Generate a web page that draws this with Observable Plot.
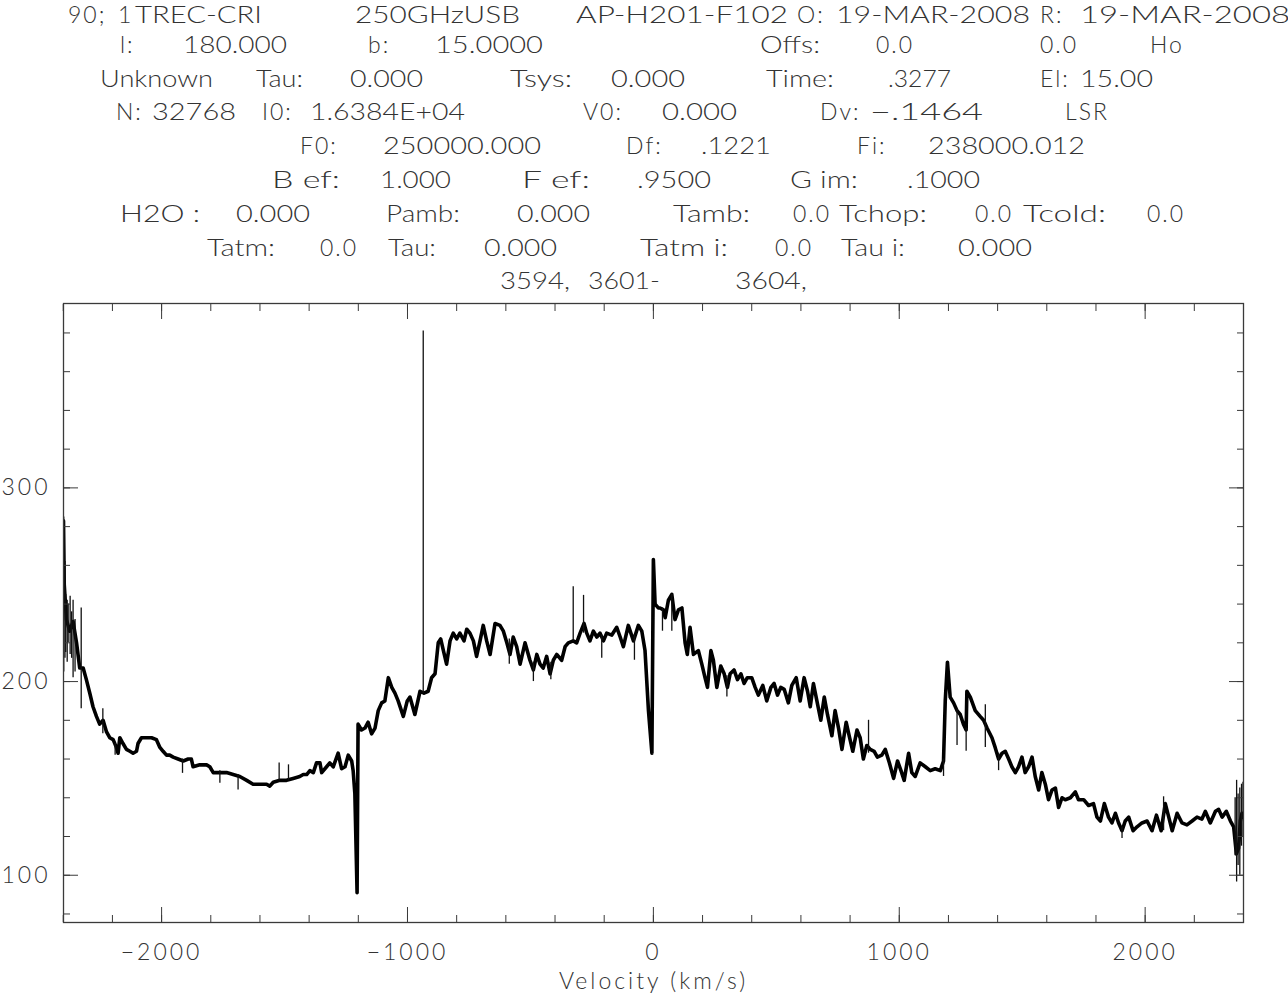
<!DOCTYPE html>
<html><head><meta charset="utf-8">
<script src="https://cdn.jsdelivr.net/npm/d3@7"></script>
<script src="https://cdn.jsdelivr.net/npm/@observablehq/plot@0.6"></script>
<style>
body{margin:0;background:#fff;}
#wrap{width:1288px;}
#wrap svg{display:block;}
</style></head><body><div id="wrap"></div>
<script>
// ---- spectrum data (velocity km/s, antenna temperature) ----
const velocity = [-2399,-2396,-2387,-2374,-2360,-2346,-2333,-2319,-2306,-2292,-2279,-2265,-2252,-2238,-2224,-2211,-2197,-2184,-2177,-2170,-2157,-2143,-2129,-2116,-2102,-2096,-2082,-2061,-2041,-2021,-2007,-1994,-1980,-1967,-1953,-1933,-1912,-1892,-1879,-1872,-1845,-1817,-1804,-1790,-1763,-1736,-1709,-1682,-1654,-1628,-1600,-1573,-1560,-1546,-1519,-1492,-1465,-1438,-1424,-1410,-1397,-1383,-1370,-1356,-1349,-1329,-1316,-1302,-1282,-1268,-1254,-1241,-1227,-1221,-1214,-1205,-1201,-1187,-1173,-1160,-1146,-1132,-1119,-1105,-1092,-1078,-1064,-1051,-1038,-1017,-1001,-990,-970,-949,-933,-916,-902,-888,-875,-865,-854,-841,-827,-814,-800,-787,-770,-759,-746,-732,-719,-705,-692,-678,-664,-644,-624,-610,-596,-583,-570,-556,-542,-522,-502,-488,-474,-461,-448,-434,-420,-407,-393,-373,-359,-346,-326,-312,-298,-282,-271,-258,-244,-230,-217,-203,-190,-169,-149,-135,-122,-102,-81,-61,-47,-34,-20,-6,0,7,20,27,41,48,61,75,88,102,116,129,138,149,163,183,197,210,220,234,244,258,274,288,301,312,328,342,356,369,382,400,414,427,445,461,478,491,505,518,532,549,563,581,597,613,627,638,651,665,681,695,708,726,739,753,767,784,798,811,828,841,854,868,882,898,911,929,943,960,977,993,1007,1020,1038,1051,1065,1085,1106,1126,1146,1167,1180,1187,1196,1207,1221,1235,1248,1261,1272,1275,1289,1309,1329,1343,1357,1377,1390,1404,1418,1431,1445,1458,1472,1485,1499,1512,1526,1540,1553,1567,1580,1594,1607,1621,1635,1648,1662,1675,1696,1716,1729,1750,1770,1790,1804,1818,1834,1851,1865,1879,1892,1906,1919,1933,1951,1967,1987,2008,2028,2046,2065,2082,2096,2110,2130,2150,2170,2191,2211,2231,2245,2265,2286,2299,2313,2330,2347,2360,2371,2380,2387,2394,2400];
const tmb = [283,250,232,226,231,220,207,207,201,194,187,182,178,180,174,171,170,166,163,171,168,165,164,163,164,168,171,171,171,170,166,164,162,162,161,160,159,160,160,156,157,157,156,153,153,153,152,151,149,147,147,147,146,148,149,149,150,151,152,152,154,153,158,158,153,156,158,156,163,155,156,162,159,154,142,91,178,175,176,179,173,176,185,189,190,202,197,194,190,182,190,192,183,195,194,195,202,204,220,222,216,209,221,225,222,225,221,227,225,221,213,221,229,221,214,230,229,226,220,214,223,218,209,220,211,206,214,209,207,213,204,211,214,211,218,220,221,220,225,230,225,221,226,223,225,221,225,224,228,223,218,229,221,229,226,216,185,163,263,240,238,238,237,233,242,245,232,237,238,220,214,228,214,216,209,202,197,216,211,197,208,204,197,204,206,201,204,199,202,202,197,193,198,190,197,199,193,197,196,189,198,202,190,202,195,187,199,190,180,192,183,172,185,176,165,179,171,164,175,171,160,167,165,164,161,162,165,158,150,159,154,149,163,153,151,158,156,154,155,154,159,190,210,192,189,185,183,178,175,195,192,185,182,180,176,171,166,160,163,164,160,156,153,156,161,153,156,161,151,144,153,147,139,144,145,135,140,139,140,143,139,139,136,137,130,128,137,130,127,132,127,123,128,130,123,125,127,128,123,131,123,137,130,123,132,127,126,128,130,129,133,127,133,134,130,133,128,125,111,114,128,132,130];
// narrow noise spikes: velocity, lower and upper temperature
const spikeV  = [-2398,-2393,-2390,-2384,-2380,-2372,-2366,-2360,-2352,-2327,-2239,-2189,-1915,-1763,-1689,-1522,-1484,-936,-586,-488,-417,-326,-284,-210,-77,37,75,299,875,1180,1235,1272,1350,1404,1906,2075,2366,2372,2378,2385,2392,2398];
const spikeLo = [205,212,215,210,220,214,212,202,205,186,173,162,152.6,147.5,144,149,149,194,209,200,201,221,225,212,211,226,226,192,163,151,167,164,166,154,119,123,110,96.5,105,100,115,120];
const spikeHi = [285,262,245,242,240,244,236,242,232,238,186,168,160,154,152,158,157,381,222,210,210,249,244.5,224,224,238,245,203,180,160,186,176,188,163,125,140.5,140,149,142,145,147,148];

// ---- axis ticks ----
const xTickLabels = [-2000,-1000,0,1000,2000];
const xMinorTicks = [-2400,-2200,-2000,-1800,-1600,-1400,-1200,-1000,-800,-600,-400,-200,0,200,400,600,800,1000,1200,1400,1600,1800,2000,2200,2400];
const yTickLabels = [100,200,300];
const yMinorTicks = [80,100,120,140,160,180,200,220,240,260,280,300,320,340,360,380];
const xLabel = "Velocity (km/s)";

// ---- header text (CLASS spectrum header) ----
const headerRows = [
  ["90;","1","TREC-CRI","250GHzUSB","AP-H201-F102","O:","19-MAR-2008","R:","19-MAR-2008"],
  ["l:","180.000","b:","15.0000","Offs:","0.0","0.0","Ho"],
  ["Unknown","Tau:","0.000","Tsys:","0.000","Time:",".3277","El:","15.00"],
  ["N:","32768","I0:","1.6384E+04","V0:","0.000","Dv:","\u2212.1464","LSR"],
  ["F0:","250000.000","Df:",".1221","Fi:","238000.012"],
  ["B ef:","1.000","F ef:",".9500","G im:",".1000"],
  ["H2O :","0.000","Pamb:","0.000","Tamb:","0.0","Tchop:","0.0","Tcold:","0.0"],
  ["Tatm:","0.0","Tau:","0.000","Tatm i:","0.0","Tau i:","0.000"],
  ["3594,","3601-","3604,"]
];
// layout: [start x, end x] of each header token
const headerLayout = [
  [[68,100],[118,130],[135,262],[355,520],[576,788],[797,822],[836,1030],[1040,1068],[1080,1290]],
  [[120,135],[183,287],[368,385],[435,543],[760,820],[876,915],[1040,1080],[1150,1168]],
  [[100,213],[256,303],[350,423],[510,572],[611,685],[766,834],[888,951],[1040,1063],[1080,1153]],
  [[116,143],[152,236],[262,300],[310,465],[583,621],[662,737],[820,858],[870,983],[1065,1110]],
  [[300,340],[383,541],[626,660],[701,771],[857,883],[928,1085]],
  [[272,340],[380,451],[522,590],[637,711],[790,858],[907,980]],
  [[120,200],[236,310],[386,460],[517,590],[673,750],[793,833],[839,927],[975,1015],[1023,1106],[1147,1187]],
  [[207,275],[320,360],[388,436],[484,557],[640,728],[775,815],[841,905],[958,1032]],
  [[500,570],[588,660],[735,807]]
];
const headerRowY = [15, 44.5, 78.3, 112.1, 145.9, 179.7, 213.5, 247.3, 281.1];

const FONT = "Lato,'DejaVu Sans',sans-serif";
const TEXTCOL = "#333";
const HEADER_H = 298;

// header svg
const wrap = d3.select("#wrap");
const hdr = wrap.append("svg").attr("width", 1288).attr("height", HEADER_H)
  .style("font-family", FONT).style("font-size", "23px").style("font-weight", 300).attr("fill", TEXTCOL);
headerRows.forEach((row, r) => {
  const cy = headerRowY[r];
  row.forEach((t, k) => {
    const [x0, x1] = headerLayout[r][k];
    const el = hdr.append("text").attr("x", x0).attr("y", cy + 8.3).text(t);
    if (t.length > 3) el.attr("textLength", x1 - x0).attr("lengthAdjust", "spacingAndGlyphs");
    else el.style("letter-spacing", "2px");
  });
});

const idx = d3.range(velocity.length);
const sidx = d3.range(spikeV.length);
const AX = "#3a3a3a";
const fmt = d3.format("d");

const chart = Plot.plot({
  width: 1288, height: 996 - HEADER_H,
  marginTop: 303 - HEADER_H, marginLeft: 63, marginRight: 45, marginBottom: 74,
  style: {fontFamily: FONT, fontSize: "23px", fontWeight: 300, color: TEXTCOL, background: "#fff", letterSpacing: "3px"},
  x: {domain: [-2399, 2400], label: null},
  y: {domain: [75.6, 395.2], label: null},
  marks: [
    Plot.line(idx, {x: i => velocity[i], y: i => tmb[i], stroke: "#000", strokeWidth: 3.6, clip: true}),
    Plot.ruleX(sidx, {x: i => spikeV[i], y1: i => spikeLo[i], y2: i => spikeHi[i], stroke: "#111", strokeWidth: 1.3, clip: true}),
    Plot.frame({stroke: AX, strokeWidth: 1.3}),
    // bottom
    Plot.axisX(xMinorTicks, {anchor: "bottom", tickSize: -7, tickFormat: () => "", stroke: AX, label: null}),
    Plot.axisX(xTickLabels, {anchor: "bottom", tickSize: -15, tickPadding: 36, tickFormat: fmt, stroke: AX, fill: TEXTCOL, label: null}),
    Plot.text([xLabel], {frameAnchor: "bottom", dy: 59, lineAnchor: "middle", fill: TEXTCOL, text: d => d, letterSpacing: "5.2px"}),
    // top
    Plot.axisX(xMinorTicks, {anchor: "top", tickSize: -7, tickFormat: () => "", stroke: AX, label: null}),
    Plot.axisX(xTickLabels, {anchor: "top", tickSize: -15, tickFormat: () => "", stroke: AX, label: null}),
    // left
    Plot.axisY(yMinorTicks, {anchor: "left", tickSize: -7, tickFormat: () => "", stroke: AX, label: null}),
    Plot.axisY(yTickLabels, {anchor: "left", tickSize: -15, tickPadding: 28, tickFormat: fmt, stroke: AX, fill: TEXTCOL, label: null}),
    // right
    Plot.axisY(yMinorTicks, {anchor: "right", tickSize: -7, tickFormat: () => "", stroke: AX, label: null}),
    Plot.axisY(yTickLabels, {anchor: "right", tickSize: -15, tickFormat: () => "", stroke: AX, label: null})
  ]
});
wrap.node().appendChild(chart);
</script>
</body></html>
